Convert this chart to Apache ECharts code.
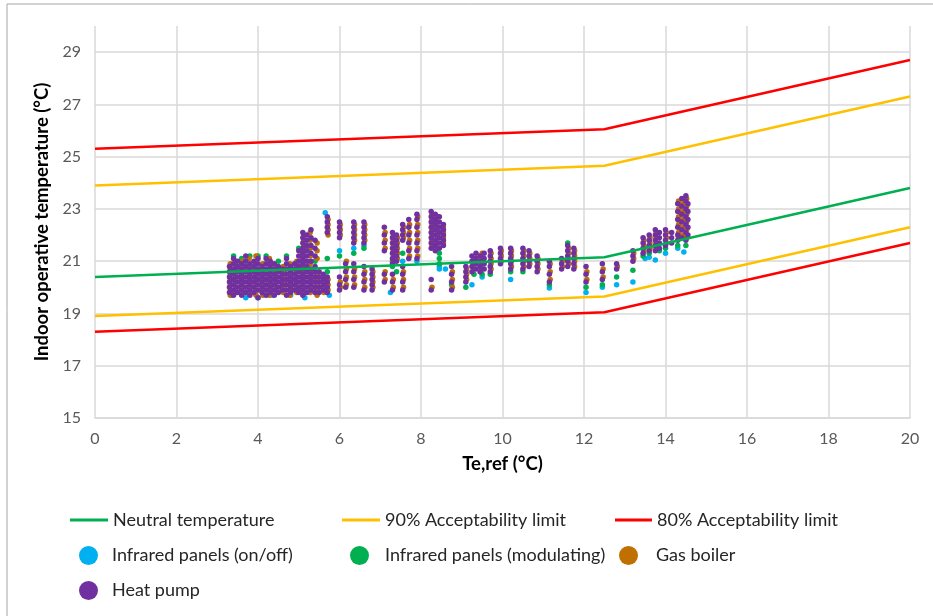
<!DOCTYPE html>
<html>
<head>
<meta charset="utf-8">
<script src="https://cdn.jsdelivr.net/npm/echarts@6/dist/echarts.min.js"></script>
<style>
html, body { margin: 0; padding: 0; background: #fff; }
#chart { width: 933px; height: 616px; }
</style>
</head>
<body>
<div id="chart"></div>
<script>
// comfort band lines (x = Te,ref, y = temperature)
const neutral = [[0, 20.4], [12.5, 21.15], [20, 23.8]];
const upper90 = [[0, 23.9], [12.5, 24.65], [20, 27.3]];
const lower90 = [[0, 18.9], [12.5, 19.65], [20, 22.3]];
const upper80 = [[0, 25.3], [12.5, 26.05], [20, 28.7]];
const lower80 = [[0, 18.3], [12.5, 19.05], [20, 21.7]];

// measured points, columns of [x, [y values]]
const heatPump = [
  [3.3, [19.8, 20.0, 20.2, 20.4, 20.6, 20.8]],
  [3.4, [19.7, 19.9, 20.1, 20.3, 20.5, 20.7, 20.9, 21.1]],
  [3.5, [19.8, 20.0, 20.2, 20.4, 20.6, 20.8, 21.0]],
  [3.6, [19.7, 19.9, 20.1, 20.3, 20.5, 20.7, 20.9]],
  [3.7, [19.8, 20.0, 20.2, 20.4, 20.6, 20.8, 21.0, 21.2]],
  [3.8, [19.7, 19.9, 20.1, 20.3, 20.5, 20.7, 20.9]],
  [3.9, [19.8, 20.0, 20.2, 20.4, 20.6, 20.8, 21.0]],
  [4.0, [19.6, 19.9, 20.1, 20.3, 20.5, 20.7, 20.9, 21.1]],
  [4.1, [19.8, 20.0, 20.2, 20.4, 20.6, 20.8]],
  [4.2, [19.7, 19.9, 20.1, 20.3, 20.5, 20.7, 20.9, 21.1]],
  [4.3, [19.8, 20.0, 20.2, 20.4, 20.6, 20.8, 21.0]],
  [4.4, [19.7, 19.9, 20.1, 20.3, 20.5, 20.7, 20.9]],
  [4.5, [19.8, 20.0, 20.2, 20.4, 20.6, 20.8]],
  [4.6, [19.9, 20.1, 20.3, 20.5, 20.7]],
  [4.7, [19.7, 19.9, 20.1, 20.3, 20.5, 20.7, 20.9, 21.1]],
  [4.8, [19.8, 20.0, 20.2, 20.4, 20.6, 20.8]],
  [4.9, [19.9, 20.1, 20.3, 20.5, 20.7, 20.9]],
  [5.0, [19.8, 20.0, 20.2, 20.4, 20.6, 20.8, 21.0, 21.2, 21.4]],
  [5.1, [19.7, 19.9, 20.1, 20.3, 20.5, 20.7, 20.9, 21.1, 21.3, 21.5, 21.7, 21.9, 22.1]],
  [5.2, [19.8, 20.0, 20.2, 20.4, 20.6, 20.8, 21.0, 21.2, 21.4, 21.6, 21.8, 22.0]],
  [5.3, [19.9, 20.1, 20.3, 20.5, 20.7, 21.0, 21.3, 21.6, 21.9, 22.2]],
  [5.4, [19.8, 20.0, 20.2, 20.4, 20.6, 20.8, 21.2, 21.5, 21.8]],
  [5.5, [19.8, 20.0, 20.2, 20.4, 20.6]],
  [5.6, [19.9, 20.1, 20.3, 20.5]],
  [5.7, [19.8, 20.0, 20.2, 20.4, 22.1, 22.3, 22.5, 22.7]],
  [6.0, [19.9, 20.1, 20.4, 21.9, 22.1, 22.3, 22.5]],
  [6.15, [20.0, 20.3, 20.6, 20.9]],
  [6.35, [20.0, 20.3, 20.6, 20.9, 21.7, 21.9, 22.1, 22.3, 22.5]],
  [6.6, [19.9, 20.2, 20.5, 20.8, 21.7, 21.9, 22.1, 22.3, 22.5]],
  [6.8, [19.9, 20.1, 20.3, 20.5, 20.7]],
  [7.1, [20.2, 20.5, 21.4, 21.7, 22.0, 22.3]],
  [7.3, [19.9, 20.2, 20.5, 20.9, 21.1, 21.3, 21.5, 21.7, 21.9, 22.1]],
  [7.4, [21.0, 21.2, 21.4, 21.6, 21.8, 22.0]],
  [7.55, [19.9, 20.2, 20.5, 20.8, 21.8, 22.0, 22.2, 22.4]],
  [7.7, [21.1, 21.4, 21.7, 22.0, 22.3, 22.6]],
  [7.9, [21.1, 21.4, 21.7, 22.0, 22.3, 22.6, 22.8]],
  [8.25, [19.9, 20.3, 21.5, 21.7, 21.9, 22.1, 22.3, 22.5, 22.7, 22.9]],
  [8.35, [21.4, 21.6, 21.8, 22.0, 22.2, 22.4, 22.6, 22.8]],
  [8.45, [21.5, 21.7, 21.9, 22.1, 22.3, 22.5, 22.7]],
  [8.55, [21.6, 21.8, 22.0, 22.2, 22.4]],
  [8.75, [19.9, 20.2, 20.5, 20.8]],
  [9.1, [20.2, 20.4, 20.6, 20.8]],
  [9.25, [20.6, 20.8, 21.0, 21.2]],
  [9.35, [20.7, 20.9, 21.1, 21.3]],
  [9.45, [20.6, 20.8, 21.0, 21.2]],
  [9.55, [20.7, 20.9, 21.1, 21.3]],
  [9.7, [20.6, 20.8, 21.0, 21.2, 21.4]],
  [9.95, [20.9, 21.1, 21.3, 21.5]],
  [10.2, [20.7, 20.9, 21.1, 21.3, 21.5]],
  [10.5, [20.7, 20.9, 21.1, 21.3, 21.5]],
  [10.65, [20.8, 21.0, 21.2, 21.4]],
  [10.85, [20.6, 20.8, 21.0, 21.2]],
  [11.15, [20.2, 20.5, 20.8, 21.0]],
  [11.45, [20.7, 20.9, 21.1]],
  [11.6, [20.8, 21.0, 21.2, 21.4, 21.6]],
  [11.75, [20.7, 20.9, 21.1, 21.3, 21.5]],
  [12.05, [20.2, 20.5, 20.8]],
  [12.45, [20.3, 20.6, 20.9]],
  [12.8, [20.7, 20.9]],
  [13.2, [21.0, 21.2, 21.4]],
  [13.45, [21.3, 21.5, 21.7, 21.9]],
  [13.6, [21.4, 21.6, 21.8, 22.0]],
  [13.75, [21.4, 21.6, 21.8, 22.0, 22.2]],
  [13.85, [21.5, 21.7, 21.9, 22.1]],
  [14.0, [21.6, 21.8, 22.0, 22.2]],
  [14.15, [21.7, 21.9, 22.1]],
  [14.3, [21.8, 22.0, 22.3, 22.6, 22.9, 23.2]],
  [14.4, [21.9, 22.2, 22.5, 22.8, 23.1, 23.4]],
  [14.5, [21.8, 22.1, 22.4, 22.7, 23.0, 23.3, 23.5]],
  [14.55, [22.0, 22.3, 22.6, 22.9, 23.2]]
];

const gasBoiler = [
  [3.32, [19.7, 19.9, 20.1, 20.3, 20.5, 20.7, 20.9]],
  [3.45, [19.8, 20.0, 20.2, 20.4, 20.6, 20.8, 21.0]],
  [3.62, [19.8, 20.0, 20.2, 20.4, 20.6, 20.8, 21.0]],
  [3.78, [19.8, 20.0, 20.2, 20.4, 20.6, 20.8, 21.1]],
  [3.95, [19.7, 19.9, 20.1, 20.3, 20.5, 20.7, 20.9, 21.2]],
  [4.12, [19.7, 19.9, 20.1, 20.3, 20.5, 20.7, 20.9]],
  [4.28, [19.7, 19.9, 20.1, 20.3, 20.5, 20.7, 20.9, 21.1]],
  [4.45, [19.8, 20.0, 20.2, 20.4, 20.6, 20.8]],
  [4.62, [19.8, 20.0, 20.2, 20.4, 20.6, 20.8]],
  [4.78, [19.7, 19.9, 20.1, 20.3, 20.5, 20.7, 20.9]],
  [4.95, [19.8, 20.0, 20.2, 20.4, 20.6, 20.8, 21.0]],
  [5.12, [19.8, 20.0, 20.2, 20.4, 20.6, 20.8, 21.0, 21.2, 21.4, 21.6, 21.8, 22.0]],
  [5.28, [19.8, 20.0, 20.2, 20.4, 20.6, 20.9, 21.2, 21.5, 21.8, 22.1]],
  [5.45, [19.7, 19.9, 20.1, 20.3, 20.5, 21.1, 21.4, 21.7]],
  [5.62, [19.8, 20.0, 20.2, 20.4]],
  [5.72, [19.9, 20.1, 20.3, 22.0, 22.2, 22.4, 22.6]],
  [6.02, [20.0, 20.2, 22.0, 22.2, 22.4]],
  [6.17, [20.1, 20.4, 20.7, 21.0]],
  [6.37, [20.1, 20.4, 20.7, 21.8, 22.0, 22.2, 22.4]],
  [6.62, [20.0, 20.3, 20.6, 21.8, 22.0, 22.2, 22.4]],
  [6.82, [20.0, 20.2, 20.4, 20.6]],
  [7.12, [20.3, 20.6, 21.5, 21.8, 22.1]],
  [7.32, [20.0, 20.3, 21.0, 21.2, 21.4, 21.6, 21.8, 22.0]],
  [7.42, [21.1, 21.3, 21.5, 21.7, 21.9]],
  [7.57, [20.0, 20.3, 20.6, 21.9, 22.1, 22.3]],
  [7.72, [21.2, 21.5, 21.8, 22.1, 22.4]],
  [7.92, [21.2, 21.5, 21.8, 22.1, 22.4, 22.7]],
  [8.27, [20.0, 21.6, 21.8, 22.0, 22.2, 22.4, 22.6, 22.8]],
  [8.4, [21.5, 21.7, 21.9, 22.1, 22.3, 22.5, 22.7]],
  [8.55, [21.7, 21.9, 22.1, 22.3]],
  [8.77, [20.0, 20.3, 20.6]],
  [9.12, [20.3, 20.5, 20.7]],
  [9.3, [20.7, 20.9, 21.1]],
  [9.5, [20.7, 20.9, 21.1, 21.3]],
  [9.72, [20.7, 20.9, 21.1, 21.3]],
  [9.97, [21.0, 21.2, 21.4]],
  [10.22, [20.8, 21.0, 21.2, 21.4]],
  [10.52, [20.8, 21.0, 21.2, 21.4]],
  [10.67, [20.9, 21.1, 21.3]],
  [10.87, [20.7, 20.9, 21.1]],
  [11.17, [20.3, 20.6, 20.9]],
  [11.47, [20.8, 21.0]],
  [11.62, [20.9, 21.1, 21.3, 21.5]],
  [11.77, [20.8, 21.0, 21.2, 21.4]],
  [12.07, [20.3, 20.6]],
  [12.47, [20.4, 20.7]],
  [12.82, [20.8]],
  [13.22, [21.1, 21.3]],
  [13.47, [21.4, 21.6, 21.8]],
  [13.62, [21.5, 21.7, 21.9]],
  [13.77, [21.5, 21.7, 21.9, 22.1]],
  [14.02, [21.7, 21.9, 22.1]],
  [14.32, [21.9, 22.1, 22.4, 22.7, 23.0, 23.3]],
  [14.42, [22.0, 22.3, 22.6, 22.9, 23.2]],
  [14.52, [21.9, 22.2, 22.5, 22.8, 23.1, 23.4]]
];

const irModulating = [
  [3.4, [21.2, 19.8]],
  [3.6, [21.1]],
  [3.8, [21.2, 20.0]],
  [4.0, [21.2]],
  [4.2, [21.2, 19.9]],
  [4.5, [21.0]],
  [4.7, [21.2]],
  [5.0, [20.0, 21.5]],
  [5.4, [21.0]],
  [5.7, [21.1, 20.6]],
  [6.0, [21.2]],
  [6.35, [21.3]],
  [6.6, [21.5]],
  [7.3, [20.8, 21.0]],
  [7.4, [20.6]],
  [7.55, [21.3]],
  [8.45, [21.1, 21.3, 20.9]],
  [8.75, [20.1]],
  [9.1, [20.0]],
  [9.3, [20.5]],
  [9.5, [20.5]],
  [9.7, [20.5]],
  [10.2, [20.6]],
  [10.5, [20.6]],
  [11.15, [20.1]],
  [11.6, [21.7]],
  [12.05, [20.0]],
  [12.45, [20.1]],
  [12.8, [20.4]],
  [13.2, [20.65]],
  [13.45, [21.2]],
  [13.6, [21.3]],
  [13.85, [21.4]],
  [14.0, [21.5]],
  [14.3, [21.6]],
  [14.5, [21.6]]
];

const irOnOff = [
  [3.35, [19.7]],
  [3.7, [19.6]],
  [4.0, [19.6]],
  [4.35, [19.7]],
  [4.8, [19.7]],
  [5.15, [19.6]],
  [5.65, [22.85]],
  [5.75, [19.7]],
  [6.0, [21.4]],
  [6.35, [21.5]],
  [6.6, [21.6]],
  [7.25, [19.8]],
  [7.55, [21.0]],
  [7.9, [21.0]],
  [8.45, [20.7, 20.8]],
  [8.6, [20.7]],
  [9.25, [20.1]],
  [9.5, [20.4]],
  [10.2, [20.3]],
  [11.15, [19.97]],
  [12.05, [19.8]],
  [12.45, [20.0]],
  [12.8, [20.1]],
  [13.2, [20.2]],
  [13.5, [21.1]],
  [13.6, [21.15]],
  [13.75, [21.05]],
  [14.0, [21.3]],
  [14.3, [21.5]],
  [14.45, [21.35]]
];

function flat(cols) {
  const out = [];
  cols.forEach(function (c) { c[1].forEach(function (y) { out.push([c[0], y]); }); });
  return out;
}

const font = 'Lato, "Open Sans", sans-serif';

function lineSeries(name, data, color) {
  return {
    name: name, type: 'line', data: data, symbol: 'none', z: 5,
    lineStyle: { color: color, width: 2.5 }, itemStyle: { color: color }
  };
}
function dotSeries(name, cols, color) {
  return {
    name: name, type: 'scatter', data: flat(cols), symbolSize: 5.5, z: 3,
    itemStyle: { color: color, opacity: 1 }
  };
}
function legendAt(name, left, top, icon, w, h, pad) {
  return {
    data: [name], left: left, top: top, icon: icon, itemWidth: w, itemHeight: h,
    selectedMode: false, padding: 0,
    textStyle: { fontFamily: font, fontSize: 18, color: '#262626', padding: [0, 0, 0, pad] }
  };
}

const chart = echarts.init(document.getElementById('chart'));
chart.setOption({
  animation: false,
  backgroundColor: '#fff',
  graphic: [{
    type: 'rect', shape: { x: 7, y: 4, width: 960, height: 700 },
    style: { fill: 'none', stroke: '#a6a6a6', lineWidth: 1 }, silent: true
  }],
  grid: { left: 95, right: 23, top: 26, bottom: 198 },
  legend: [
    legendAt('Neutral temperature', 70, 511, 'rect', 38, 3, 0),
    legendAt('90% Acceptability limit', 342, 511, 'rect', 38, 3, 0),
    legendAt('80% Acceptability limit', 615, 511, 'rect', 37, 3, 0),
    legendAt('Infrared panels (on/off)', 79, 546, 'circle', 19, 19, 9),
    legendAt('Infrared panels (modulating)', 350, 546, 'circle', 19, 19, 11),
    legendAt('Gas boiler', 619, 546, 'circle', 19, 19, 13),
    legendAt('Heat pump', 79, 581, 'circle', 19, 19, 9)
  ],
  xAxis: {
    type: 'value', min: 0, max: 20, interval: 2,
    name: 'Te,ref (°C)', nameLocation: 'middle', nameGap: 37,
    nameTextStyle: { fontFamily: font, fontSize: 18.5, fontWeight: 'bold', color: '#000' },
    axisLine: { show: true, lineStyle: { color: '#d9d9d9', width: 1.5 } },
    axisTick: { show: false },
    axisLabel: { fontFamily: font, fontSize: 16, color: '#595959', margin: 13 },
    splitLine: { show: true, lineStyle: { color: '#d9d9d9', width: 1.5 } }
  },
  yAxis: {
    type: 'value', min: 15, max: 30, interval: 1,
    name: 'Indoor operative temperature (°C)', nameLocation: 'middle', nameGap: 42,
    nameTextStyle: { fontFamily: font, fontSize: 18.5, fontWeight: 'bold', color: '#000' },
    axisLine: { show: false },
    axisTick: { show: false },
    axisLabel: {
      fontFamily: font, fontSize: 16, color: '#595959', margin: 14,
      formatter: function (v) { return (v % 2 === 1 && v < 30) ? String(v) : ''; }
    },
    splitLine: { show: true, lineStyle: { color: ['#d9d9d9', 'rgba(0,0,0,0)'], width: 1.5 } }
  },
  series: [
    dotSeries('Infrared panels (on/off)', irOnOff, '#00b0f0'),
    dotSeries('Infrared panels (modulating)', irModulating, '#00b050'),
    dotSeries('Gas boiler', gasBoiler, '#bf7000'),
    dotSeries('Heat pump', heatPump, '#7030a0'),
    lineSeries('Neutral temperature', neutral, '#00b050'),
    lineSeries('90% Acceptability limit', upper90, '#ffc000'),
    lineSeries('90% Acceptability limit', lower90, '#ffc000'),
    lineSeries('80% Acceptability limit', upper80, '#ff0000'),
    lineSeries('80% Acceptability limit', lower80, '#ff0000')
  ]
});
</script>
</body>
</html>
